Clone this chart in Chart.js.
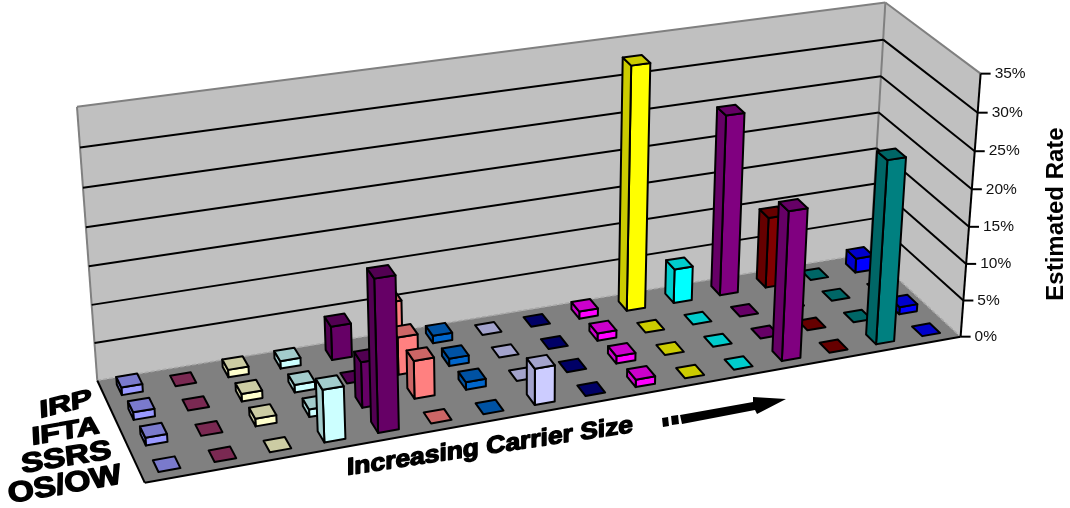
<!DOCTYPE html>
<html lang="en">

<head>
    <meta charset="UTF-8">
    <title>Estimated Rate by Carrier Size</title>
    <style>
        html, body {
            margin: 0;
            padding: 0;
            background: #fff;
        }

        #chart {
            display: block;
        }
    </style>
</head>

<body>
    <canvas id="chart" width="1070" height="508"></canvas>

    <script src="https://cdn.jsdelivr.net/npm/chart.js"></script>
    <script>
        // Carrier size buckets, smallest to largest
        const carrierSizes = ['1', '2', '3', '4', '5', '6', '7', '8', '9', '10', '11', '12', '13', '14', '15', '16'];

        // Programs, back row to front row
        const programs = ['IRP', 'IFTA', 'SSRS', 'OS/OW'];

        // Estimated rate (%) per carrier size
        const irpRates = [1, 0, 1, 1, 4.5, 6.5, 1, 0, 0, 1, 33, 4.7, 24.7, 9.8, 0, 2];
        const iftaRates = [1, 0, 1, 1, 0, 5, 1, 0, 0, 1, 0, 0, 0, 0, 0, 0];
        const ssrsRates = [1, 0, 1, 1, 6, 5, 1, 0, 0, 1, 0, 0, 0, 0, 0, 1];
        const osowRates = [0, 0, 0, 6.8, 19.7, 0, 0, 4.8, 0, 1, 0, 0, 20, 0, 24.7, 0];

        const rateTicks = [0, 5, 10, 15, 20, 25, 30, 35];

        const columnColors = ['#9999FF', '#993366', '#FFFFCC', '#CCFFFF', '#660066', '#FF8080', '#0066CC', '#CCCCFF',
            '#000080', '#FF00FF', '#FFFF00', '#00FFFF', '#800080', '#800000', '#008080', '#0000FF'];

        // Box corners on screen, as [x, y, depth, pixelX, pixelY]; x, depth and height run 0..1
        const boxPins = [
            [0, 0, 0, 145, 483],
            [1, 0, 0, 960, 337],
            [1, 1, 0, 871, 253],
            [0, 1, 0, 97, 380],
            [0, 1, 1, 77, 107],
            [1, 1, 1, 885, 3],
            [1, 0, 1, 981, 73]
        ];

        // Least squares fit of a projective camera through the box corners
        function fitCamera(pins) {
            const rows = [];
            pins.forEach(([x, d, h, px, py]) => {
                rows.push([x, d, h, 1, 0, 0, 0, 0, -px * x, -px * d, -px * h, px]);
                rows.push([0, 0, 0, 0, x, d, h, 1, -py * x, -py * d, -py * h, py]);
            });
            const n = 11;
            const m = [];
            for (let i = 0; i < n; i++) {
                m.push([]);
                for (let j = 0; j <= n; j++) {
                    m[i].push(rows.reduce((sum, r) => sum + r[i] * r[j], 0));
                }
            }
            for (let i = 0; i < n; i++) {
                let pivot = i;
                for (let k = i + 1; k < n; k++) {
                    if (Math.abs(m[k][i]) > Math.abs(m[pivot][i])) pivot = k;
                }
                [m[i], m[pivot]] = [m[pivot], m[i]];
                for (let k = 0; k < n; k++) {
                    if (k === i) continue;
                    const f = m[k][i] / m[i][i];
                    for (let j = i; j <= n; j++) m[k][j] -= f * m[i][j];
                }
            }
            return m.map((row, i) => row[n] / row[i]);
        }

        const cam = fitCamera(boxPins);

        function project(x, d, h) {
            const w = cam[8] * x + cam[9] * d + cam[10] * h + 1;
            return [
                (cam[0] * x + cam[1] * d + cam[2] * h + cam[3]) / w,
                (cam[4] * x + cam[5] * d + cam[6] * h + cam[7]) / w
            ];
        }

        function poly(ctx, pts, fill, stroke, lineWidth) {
            ctx.beginPath();
            pts.forEach((p, i) => i ? ctx.lineTo(p[0], p[1]) : ctx.moveTo(p[0], p[1]));
            ctx.closePath();
            if (fill) {
                ctx.fillStyle = fill;
                ctx.fill();
            }
            if (stroke) {
                ctx.strokeStyle = stroke;
                ctx.lineWidth = lineWidth;
                ctx.stroke();
            }
        }

        function line(ctx, a, b, color, lineWidth) {
            ctx.beginPath();
            ctx.moveTo(a[0], a[1]);
            ctx.lineTo(b[0], b[1]);
            ctx.strokeStyle = color;
            ctx.lineWidth = lineWidth;
            ctx.stroke();
        }

        // Darker shade used on the top and side of a box
        function shade(hex) {
            const n = parseInt(hex.slice(1), 16);
            const c = [n >> 16, (n >> 8) & 255, n & 255].map(v => Math.round(v * 0.8));
            return `rgb(${c[0]},${c[1]},${c[2]})`;
        }

        // Heavy slanted lettering running from (x0,y0) to (x1,y1) along its baseline
        function warpedText(ctx, text, x0, y0, x1, y1, size, lean) {
            ctx.save();
            ctx.font = `bold ${size}px "Liberation Sans", Arial, sans-serif`;
            const w = ctx.measureText(text).width;
            ctx.transform((x1 - x0) / w, (y1 - y0) / w, lean, 1, x0, y0);
            ctx.textAlign = 'left';
            ctx.textBaseline = 'alphabetic';
            ctx.fillStyle = '#000';
            ctx.strokeStyle = '#000';
            ctx.lineWidth = 1.4;
            ctx.lineJoin = 'round';
            ctx.fillText(text, 0, 0);
            ctx.strokeText(text, 0, 0);
            ctx.restore();
        }

        // Draws the room and the boxes in perspective, reading every position from the chart's scales
        const perspectiveBars = {
            id: 'perspectiveBars',
            beforeDatasetsDraw(chart) {
                const { ctx, chartArea: area, scales } = chart;
                const toX = v => (scales.x.getPixelForValue(v) - area.left) / area.width;
                const toDepth = v => (area.bottom - scales.depth.getPixelForValue(v)) / area.height;
                const toHeight = v => (area.bottom - scales.y.getPixelForValue(v)) / area.height;
                const halfW = 0.195 / carrierSizes.length;
                const halfD = 0.22 / programs.length;

                ctx.save();
                ctx.lineJoin = 'round';

                // Walls and floor
                poly(ctx, [project(0, 1, 0), project(1, 1, 0), project(1, 1, 1), project(0, 1, 1)], '#C0C0C0');
                poly(ctx, [project(1, 1, 0), project(1, 0, 0), project(1, 0, 1), project(1, 1, 1)], '#C0C0C0');
                poly(ctx, [project(0, 0, 0), project(1, 0, 0), project(1, 1, 0), project(0, 1, 0)], '#808080');

                line(ctx, project(0, 1, 0), project(0, 1, 1), '#808080', 2);
                line(ctx, project(0, 1, 1), project(1, 1, 1), '#808080', 2);
                line(ctx, project(1, 1, 1), project(1, 0, 1), '#808080', 2);
                line(ctx, project(1, 1, 0), project(1, 1, 1), '#808080', 2);
                ctx.setLineDash([4, 2]);
                line(ctx, project(0, 1, 0), project(1, 1, 0), '#A8A8A8', 1.5);
                line(ctx, project(1, 1, 0), project(1, 0, 0), '#A8A8A8', 1.5);
                ctx.setLineDash([]);

                // Gridlines, axis and tick labels
                ctx.font = '15.5px "Liberation Sans", Arial, sans-serif';
                ctx.textBaseline = 'middle';
                ctx.textAlign = 'left';
                rateTicks.forEach(t => {
                    const h = toHeight(t);
                    const corner = project(1, 0, h);
                    if (t > 0 && t < rateTicks[rateTicks.length - 1]) {
                        line(ctx, project(0, 1, h), project(1, 1, h), '#000', 2);
                        line(ctx, project(1, 1, h), corner, '#000', 2);
                    }
                    line(ctx, corner, [corner[0] + 10, corner[1]], '#000', 2);
                    ctx.fillStyle = '#111';
                    ctx.fillText(t + '%', corner[0] + 14, corner[1]);
                });
                line(ctx, project(0, 0, 0), project(1, 0, 0), '#000', 2);
                line(ctx, project(0, 0, 0), project(0, 1, 0), '#000', 2);
                line(ctx, project(1, 0, 0), project(1, 0, 1), '#000', 2);

                // Back row first; along a row the right hand boxes go first since their left sides show
                for (let row = 0; row < programs.length; row++) {
                    const meta = chart.getDatasetMeta(row);
                    const depth = toDepth(row);
                    for (let col = carrierSizes.length - 1; col >= 0; col--) {
                        const x = toX(col);
                        const top = toHeight(meta._parsed[col].y);
                        const color = columnColors[col];
                        const dark = shade(color);
                        const x0 = x - halfW, x1 = x + halfW, d0 = depth - halfD, d1 = depth + halfD;

                        if (top > 0) {
                            poly(ctx, [project(x0, d0, 0), project(x1, d0, 0), project(x1, d0, top), project(x0, d0, top)], color, '#000', 2);
                            poly(ctx, [project(x0, d1, 0), project(x0, d0, 0), project(x0, d0, top), project(x0, d1, top)], dark, '#000', 2);
                        }
                        poly(ctx, [project(x0, d0, top), project(x1, d0, top), project(x1, d1, top), project(x0, d1, top)], dark, '#000', 2);
                    }
                }
                ctx.restore();

                // Row names
                warpedText(ctx, programs[0], 40, 418, 92, 405, 24, 0.05);
                warpedText(ctx, programs[1], 32, 445, 100, 433, 25, 0.05);
                warpedText(ctx, programs[2], 22, 473, 112, 458, 27, 0.1);
                warpedText(ctx, programs[3], 10, 503, 123, 483, 28, 0.2);

                // Axis captions
                warpedText(ctx, 'Increasing Carrier Size', 347, 475, 633, 432, 24, 0);

                ctx.save();
                ctx.translate(1063, 214);
                ctx.rotate(-Math.PI / 2);
                ctx.font = 'bold 24px "Liberation Sans", Arial, sans-serif';
                ctx.textAlign = 'center';
                ctx.textBaseline = 'alphabetic';
                ctx.fillStyle = '#000';
                ctx.fillText('Estimated Rate', 0, 0);
                ctx.restore();

                // Arrow beside the size caption
                ctx.save();
                poly(ctx, [[662, 418], [668, 417], [669, 426], [663, 427]], '#000');
                poly(ctx, [[671, 416], [678, 415], [679, 424], [672, 425]], '#000');
                poly(ctx, [[680, 415], [753, 402], [753, 397], [786, 399], [757, 414], [755, 410], [682, 424]], '#000');
                ctx.restore();

                // The boxes above replace the flat bars
                return false;
            }
        };

        const rowRates = [irpRates, iftaRates, ssrsRates, osowRates];

        new Chart(document.getElementById('chart').getContext('2d'), {
            type: 'bar',
            data: {
                labels: carrierSizes,
                datasets: programs.map((name, i) => ({
                    label: name,
                    data: rowRates[i],
                    backgroundColor: columnColors
                }))
            },
            options: {
                responsive: false,
                animation: false,
                plugins: {
                    legend: { display: false },
                    tooltip: { enabled: false }
                },
                scales: {
                    x: { display: false, offset: true },
                    y: { display: false, min: 0, max: 35 },
                    depth: { type: 'category', axis: 'y', labels: programs, display: false, offset: true }
                }
            },
            plugins: [perspectiveBars]
        });
    </script>
</body>

</html>
